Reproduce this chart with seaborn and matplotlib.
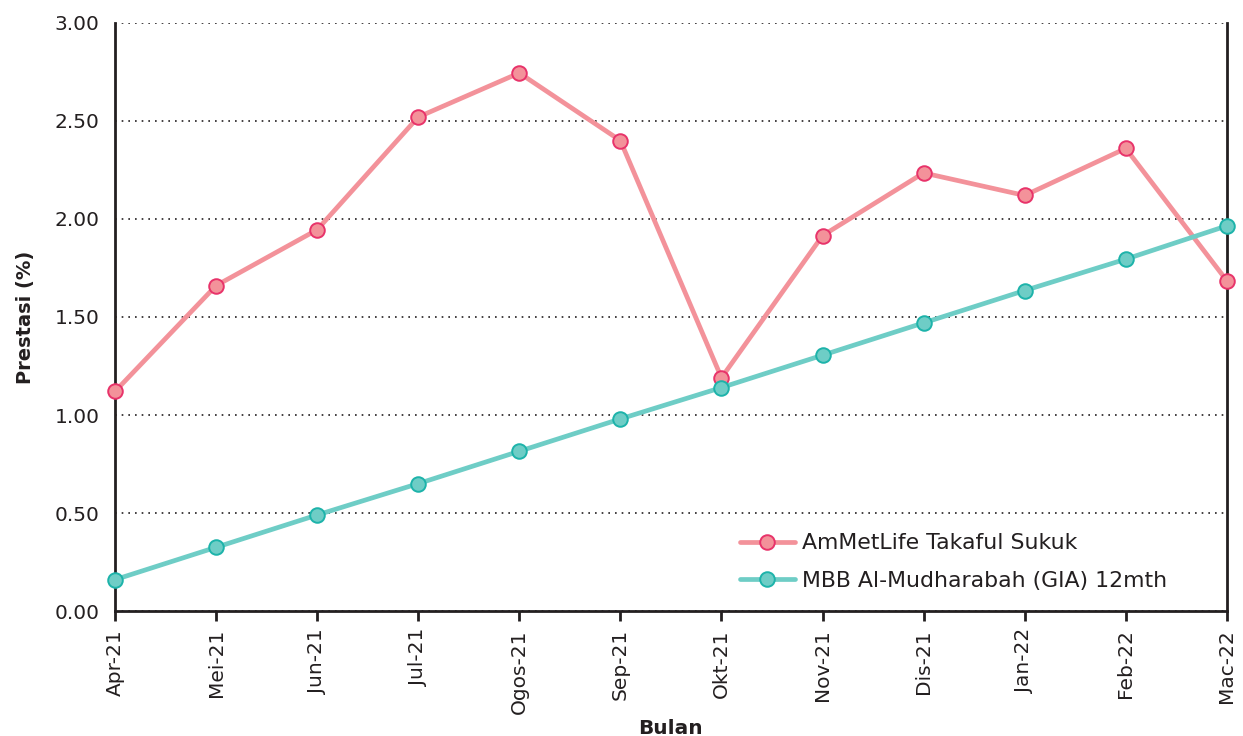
import matplotlib
matplotlib.use("Agg")
import matplotlib.pyplot as plt
import seaborn as sns
import pandas as pd

months = ["Apr-21", "Mei-21", "Jun-21", "Jul-21", "Ogos-21", "Sep-21",
          "Okt-21", "Nov-21", "Dis-21", "Jan-22", "Feb-22", "Mac-22"]
sukuk = [1.12, 1.66, 1.945, 2.52, 2.745, 2.40, 1.19, 1.915, 2.235, 2.12, 2.36, 1.685]
gia = [0.16, 0.325, 0.49, 0.65, 0.815, 0.98, 1.14, 1.305, 1.47, 1.635, 1.795, 1.965]
series_names = ["AmMetLife Takaful Sukuk", "MBB Al-Mudharabah (GIA) 12mth"]
yticks = [0.0, 0.5, 1.0, 1.5, 2.0, 2.5, 3.0]

sns.set_theme(style="white")
plt.rcParams['font.family'] = ['DejaVu Sans']

df = pd.DataFrame({
    "Bulan": pd.Categorical(months * 2, categories=months, ordered=True),
    "Prestasi": sukuk + gia,
    "Series": [series_names[0]] * len(months) + [series_names[1]] * len(months),
})
df["x"] = df["Bulan"].cat.codes

fig = plt.figure(figsize=(12.43, 7.36), dpi=100)
ax = fig.add_axes([0.0925, 0.1698, 0.8945, 0.799])

styles = {
    series_names[0]: dict(line="#f3929a", edge="#e8336a"),
    series_names[1]: dict(line="#6ecdc6", edge="#1db3aa"),
}
for name in series_names:
    sub = df[df["Series"] == name]
    sns.lineplot(data=sub, x="x", y="Prestasi", ax=ax, color=styles[name]["line"],
                 linewidth=3.4, marker="o", markersize=10.5,
                 markerfacecolor=styles[name]["line"],
                 markeredgecolor=styles[name]["edge"], markeredgewidth=1.4,
                 label=name, zorder=3, clip_on=False)

ax.set_xlim(0, len(months) - 1)
ax.set_ylim(0, 3.0)
ax.set_xticks(range(len(months)))
ax.set_xticklabels(months, rotation=90, fontsize=14.5, color="#231f20")
ax.set_yticks(yticks)
ax.set_yticklabels([f"{v:.2f}" for v in yticks], fontsize=14.5, color="#231f20")
ax.tick_params(axis="x", length=7, width=2, color="#231f20", pad=6, bottom=True)
ax.tick_params(axis="y", length=0, pad=11)
ax.yaxis.grid(True, linestyle=(0, (1, 3)), color="#231f20", linewidth=1.2)
ax.xaxis.grid(False)

for side in ["left", "bottom", "right"]:
    ax.spines[side].set_visible(True)
    ax.spines[side].set_color("#231f20")
    ax.spines[side].set_linewidth(2)
ax.spines["top"].set_visible(False)

ax.set_xlabel("Bulan", fontsize=14.5, fontweight="bold", color="#231f20", labelpad=4)
ax.set_ylabel("Prestasi (%)", fontsize=14, fontweight="bold", color="#231f20", labelpad=14)

leg = ax.legend(loc="upper left", bbox_to_anchor=(0.562, 0.132), frameon=False,
                fontsize=15.8, handlelength=2.5, handletextpad=0.35, labelspacing=0.8,
                borderpad=0, borderaxespad=0)
for t in leg.get_texts():
    t.set_color("#231f20")

fig.savefig("out.png", dpi=100)
